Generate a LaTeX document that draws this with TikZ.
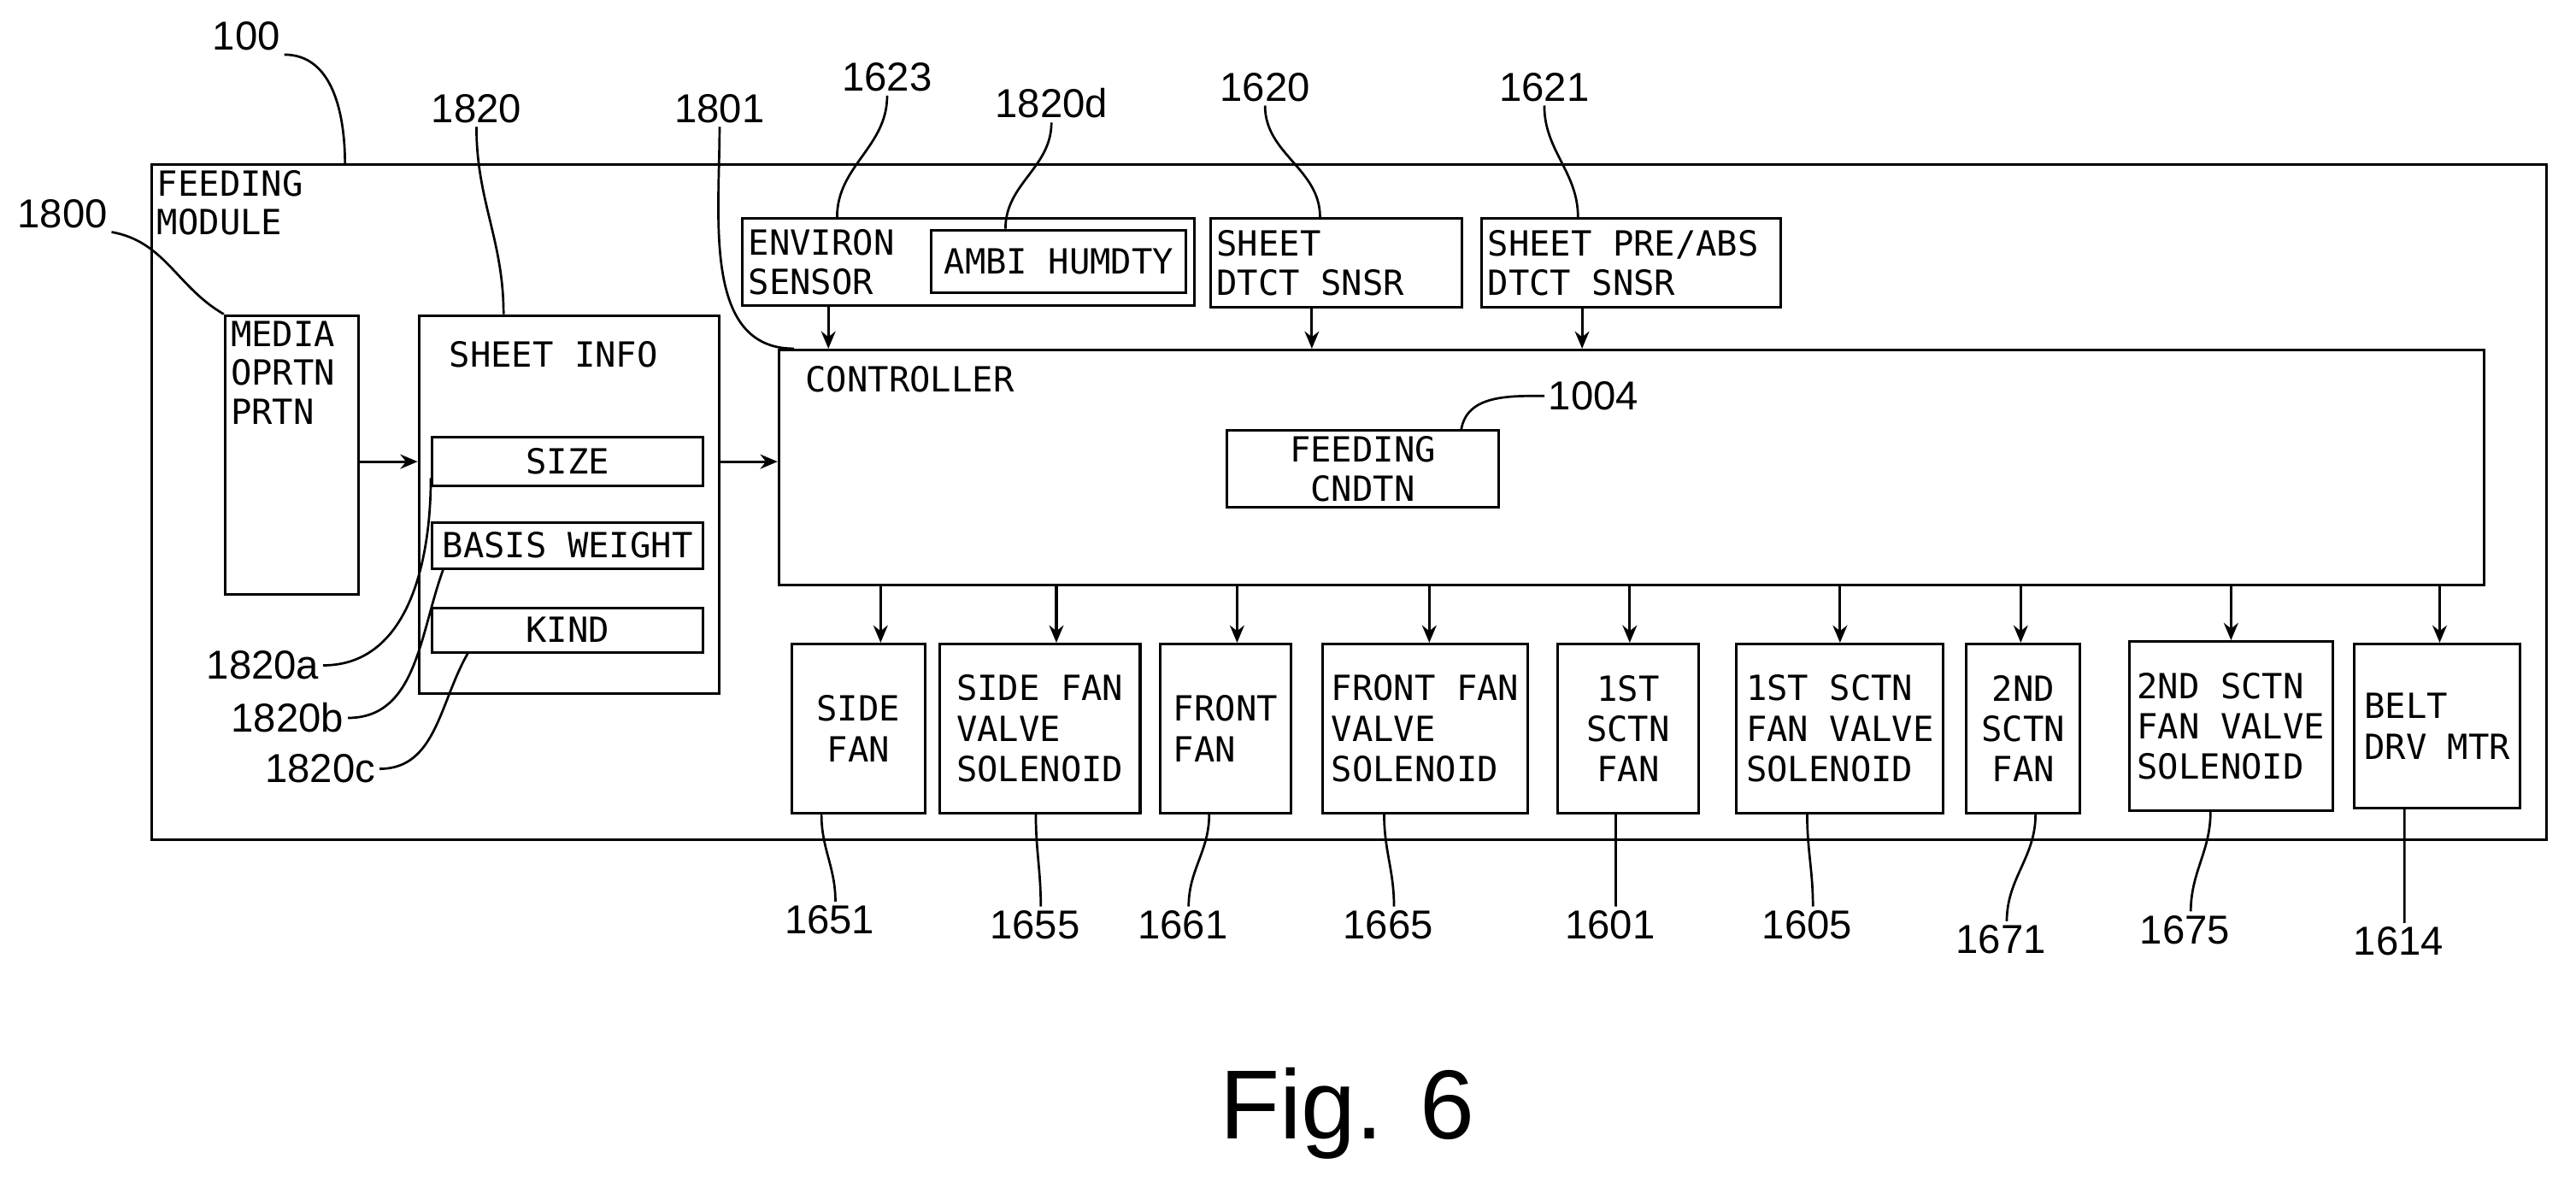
\documentclass[tikz,border=0pt]{standalone}
\usepackage{fontspec}
\setmainfont{Liberation Sans}
\setmonofont{DejaVu Sans Mono}
\usetikzlibrary{arrows.meta}

\begin{document}
\begin{tikzpicture}[
    x=0.02cm, y=-0.02cm,
    >={Stealth[length=6pt,width=5pt]},
    base/.style = {rectangle, draw=black, line width=0.9pt, inner sep=0pt},
    unit/.style = {base, minimum height=2.06cm, font=\fontsize{12}{14}\selectfont\ttfamily, align=left},
    field/.style = {base, minimum width=3.3cm, font=\fontsize{12}{14}\selectfont\ttfamily},
    txt/.style = {font=\fontsize{12}{13.5}\selectfont\ttfamily, align=left, inner sep=2pt},
    ref/.style = {font=\fontsize{14}{16}\selectfont, inner sep=1pt},
    lead/.style = {line width=0.8pt},
    every path/.style={line width=0.9pt}
]
  \useasboundingbox (0,0) rectangle (1568,719);

  % frame
  \node (module) [base, minimum width=29.16cm, minimum height=8.22cm] at (821,305.5) {};
  \node [txt, anchor=north west] at (module.north west) {FEEDING\\MODULE};

  % left side
  \node (media) [base, minimum width=1.62cm, minimum height=3.4cm] at (177.5,277) {};
  \node [txt, anchor=north west] at (media.north west) {MEDIA\\OPRTN\\PRTN};
  \node (sheet) [base, minimum width=3.66cm, minimum height=4.6cm] at (346.5,307) {};
  \node [txt] at (337,216) {SHEET INFO};
  \node (size)  [field, minimum height=0.6cm]  at (345.5,281)   {SIZE};
  \node (basis) [field, minimum height=0.56cm] at (345.5,332)   {BASIS WEIGHT};
  \node (kind)  [field, minimum height=0.54cm] at (345.5,383.5) {KIND};

  % sensors
  \node (environ) [base, minimum width=5.5cm, minimum height=1.06cm] at (589.5,159.5) {};
  \node [txt, anchor=west] at (environ.west) {ENVIRON\\SENSOR};
  \node (humid) [field, minimum width=3.1cm, minimum height=0.76cm] at (644.5,159) {AMBI HUMDTY};
  \node (dtct) [base, minimum width=3.06cm, minimum height=1.08cm] at (813.5,160) {};
  \node [txt, anchor=west] at (dtct.west) {SHEET\\DTCT SNSR};
  \node (preabs) [base, minimum width=3.64cm, minimum height=1.08cm] at (993,160) {};
  \node [txt, anchor=west] at (preabs.west) {SHEET PRE/ABS\\DTCT SNSR};

  % controller
  \node (ctrl) [base, minimum width=20.76cm, minimum height=2.86cm] at (993,284.5) {};
  \node [txt, anchor=west] at (486,231) {CONTROLLER};
  \node (cndtn) [base, minimum width=3.3cm, minimum height=0.94cm, txt] at (829.5,285.5) {FEEDING\\\ CNDTN};

  % outputs
  \node (sidefan)  [unit, minimum width=1.62cm, align=center] at (522.5,443.5) {SIDE\\FAN};
  \node (sidesol)  [unit, minimum width=2.44cm] at (633,443.5)   {SIDE FAN\\VALVE\\SOLENOID};
  \node (frontfan) [unit, minimum width=1.6cm]  at (746,443.5)   {FRONT\\FAN};
  \node (frontsol) [unit, minimum width=2.5cm]  at (867.5,443.5) {FRONT FAN\\VALVE\\SOLENOID};
  \node (fanA)     [unit, minimum width=1.72cm, align=center] at (991,443.5) {1ST\\SCTN\\FAN};
  \node (solA)     [unit, minimum width=2.52cm] at (1120,443.5)  {1ST SCTN\\FAN VALVE\\SOLENOID};
  \node (fanB)     [unit, minimum width=1.38cm, align=center] at (1231.5,443.5) {2ND\\SCTN\\FAN};
  \node (solB)     [unit, minimum width=2.48cm] at (1358,442)    {2ND SCTN\\FAN VALVE\\SOLENOID};
  \node (belt)     [unit, minimum width=2.02cm, minimum height=2.0cm] at (1483.5,442) {BELT\\DRV MTR};

  % signal arrows
  \draw[->] (media.east |- size) -- (sheet.west |- size);
  \draw[->] (sheet.east |- size) -- (ctrl.west |- size);
  \draw[->] ([xshift=1.06cm]environ.south west) -- ([xshift=1.06cm]environ.south west |- ctrl.north);
  \draw[->] ([xshift=-0.3cm]dtct.south) -- ([xshift=-0.3cm]dtct.south |- ctrl.north);
  \draw[->] ([xshift=-0.6cm]preabs.south) -- ([xshift=-0.6cm]preabs.south |- ctrl.north);
  \foreach \n/\dx in {sidefan/0.27, sidesol/0.2, frontfan/0.14, frontsol/0.05, fanA/0.02, solA/0, fanB/-0.03, solB/0, belt/0.03}
    \draw[->] ([xshift=\dx cm]\n.north |- ctrl.south) -- ([xshift=\dx cm]\n.north);

  % reference numerals
  \node (r100)  [ref] at (150,22)  {100};
  \node (r1800) [ref] at (38,130)  {1800};
  \node (r1820) [ref] at (290,66)  {1820};
  \node (r1801) [ref] at (438,66)  {1801};
  \node (r1623) [ref] at (540,47)  {1623};
  \node (r1820d)[ref] at (640,63)  {1820d};
  \node (r1620) [ref] at (770,53)  {1620};
  \node (r1621) [ref] at (940,53)  {1621};
  \node (r1004) [ref] at (970,241) {1004};
  \node (r1820a)[ref] at (160,405) {1820a};
  \node (r1820b)[ref] at (175,437) {1820b};
  \node (r1820c)[ref] at (195,468) {1820c};
  \draw[lead] (r100.south east) to[out=0,in=90] (210,100);
  \draw[lead] (r1800.south east) to[out=-10,in=150] (media.north west);
  \draw[lead] (r1820.south) to[out=-90,in=90] ([xshift=-0.8cm]sheet.north);
  \draw[lead] (r1801.south) to[out=-90,in=180] ([xshift=0.2cm]ctrl.north west);
  \draw[lead] (r1623.south) to[out=-90,in=90] ([xshift=-1.6cm]environ.north);
  \draw[lead] (r1820d.south) to[out=-90,in=90] ([xshift=-0.65cm]humid.north);
  \draw[lead] (r1620.south) to[out=-90,in=90] ([xshift=-0.2cm]dtct.north);
  \draw[lead] (r1621.south) to[out=-90,in=90] ([xshift=-0.65cm]preabs.north);
  \draw[lead] (r1004.west) to[out=180,in=80] ([xshift=1.2cm]cndtn.north);
  \draw[lead] (r1820a.east) to[out=0,in=-90] ([yshift=-0.2cm]size.west);
  \draw[lead] (r1820b.east) to[out=0,in=-110] ([xshift=0.15cm]basis.south west);
  \draw[lead] (r1820c.east) to[out=0,in=-120] ([xshift=0.45cm]kind.south west);

  \foreach \n/\lbl/\lx/\ly/\bx in {sidefan/1651/505/560/-0.45, sidesol/1655/630/563/-0.05, frontfan/1661/720/563/-0.2,
      frontsol/1665/845/563/-0.5, fanA/1601/980/563/-0.15, solA/1605/1100/563/-0.4,
      fanB/1671/1218/572/0.15, solB/1675/1330/566/-0.25, belt/1614/1460/573/-0.4}
  {
    \node (r\lbl) [ref] at (\lx,\ly) {\lbl};
    \draw[lead] ([xshift=\bx cm]\n.south) to[out=-90,in=90] ([xshift=2pt]r\lbl.north);
  }

  \node (fig) [font=\fontsize{34}{40}\selectfont] at (820,678) {Fig. 6};
\end{tikzpicture}
\end{document}
